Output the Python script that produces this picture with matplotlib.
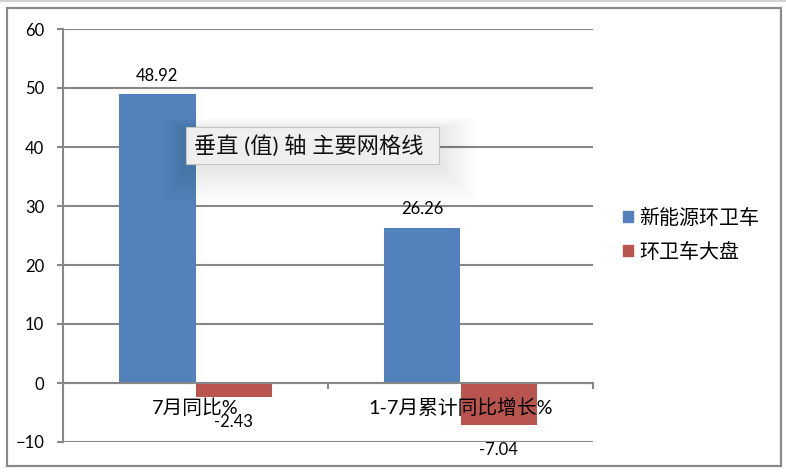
import matplotlib
matplotlib.use("Agg")
import matplotlib.pyplot as plt
from matplotlib.patches import Rectangle, Patch
from matplotlib.lines import Line2D
import numpy as np

plt.rcParams['font.family'] = ['Lato', 'Noto Sans CJK SC', 'DejaVu Sans']

# data
categories = ["7月同比%", "1-7月累计同比增长%"]
series_names = ["新能源环卫车", "环卫车大盘"]
new_energy = [48.92, 26.26]
total_market = [-2.43, -7.04]
tooltip_text = "垂直 (值) 轴 主要网格线"

blue = "#5281BC"
red = "#BA544F"
gray = "#878787"

W, H = 786, 474
fig = plt.figure(figsize=(W / 100, H / 100), dpi=100)

def fx(px):
    return px / W

def fy(py):
    return 1 - py / H

# chart area border + thin line at the very top
fig.patches.append(Rectangle((fx(7), fy(466)), fx(781) - fx(7), fy(8) - fy(466),
                             transform=fig.transFigure, fill=False,
                             edgecolor="#8a8a8a", lw=1.6))
fig.lines.append(Line2D([0, 1], [fy(1), fy(1)], transform=fig.transFigure,
                        color="#c8c8c8", lw=1.2))

ax = fig.add_axes([fx(63), fy(442), fx(593) - fx(63), fy(29) - fy(442)])
x = np.arange(len(categories))
bw = 0.288
ax.bar(x - bw / 2, new_energy, bw, color=blue, zorder=3, label=series_names[0])
ax.bar(x + bw / 2, total_market, bw, color=red, zorder=3, label=series_names[1])

ax.set_xlim(-0.5, len(categories) - 0.5)
ax.set_ylim(-10, 60)
ax.set_yticks(np.arange(-10, 61, 10))
ax.yaxis.grid(True, color=gray, lw=1.5)
ax.yaxis.set_zorder(1)
ax.xaxis.set_zorder(5)

for s in ["top", "right"]:
    ax.spines[s].set_visible(False)
ax.spines["left"].set_color(gray)
ax.spines["left"].set_linewidth(1.5)
ax.spines["bottom"].set_position(("data", 0))
ax.spines["bottom"].set_color(gray)
ax.spines["bottom"].set_linewidth(1.5)
ax.spines["bottom"].set_zorder(4)

ax.tick_params(axis="y", length=4.5, width=1.5, color=gray, pad=9, labelsize=12)
ax.set_xticks(x)
ax.set_xticklabels(categories, fontsize=14.2)
ax.tick_params(axis="x", length=0, pad=11)
ax.set_xticks(np.arange(-0.5, len(categories), 1.0), minor=True)
ax.tick_params(axis="x", which="minor", length=4, width=1.5, color=gray, direction="out")

for xi, v in zip(x - bw / 2, new_energy):
    ax.annotate(f"{v:.2f}", (xi, v), xytext=(0, 13.5), textcoords="offset points",
                ha="center", va="center", fontsize=12, zorder=6)
for xi, v in zip(x + bw / 2, total_market):
    ax.annotate(f"{v:.2f}", (xi, v), xytext=(0, -18), textcoords="offset points",
                ha="center", va="center", fontsize=12, zorder=6)

handles = [Patch(color=blue), Patch(color=red)]
fig.legend(handles, series_names, loc="center left",
           bbox_to_anchor=(fx(605), fy(234)), frameon=False, fontsize=14.4,
           handlelength=0.5, handleheight=0.5, handletextpad=0.3,
           labelspacing=0.75)

# tooltip captured in the screenshot, with a soft shadow
for i in range(12):
    g = 3 * (i + 1)
    fig.patches.append(Rectangle((fx(186 - g * 0.6), fy(166 + g)),
                                 fx(439 + g) - fx(186 - g * 0.6),
                                 fy(129 - g * 0.3) - fy(166 + g),
                                 transform=fig.transFigure, facecolor="black",
                                 edgecolor="none", alpha=0.009, zorder=8))
fig.patches.append(Rectangle((fx(186), fy(164)), fx(439) - fx(186), fy(127) - fy(164),
                             transform=fig.transFigure, facecolor="#efefef",
                             edgecolor="#c4c4c4", lw=0.8, zorder=9))
fig.text(fx(194), fy(146), tooltip_text, fontsize=16, va="center", ha="left",
         color="#111111", zorder=10)

fig.savefig("out.png", dpi=100)
